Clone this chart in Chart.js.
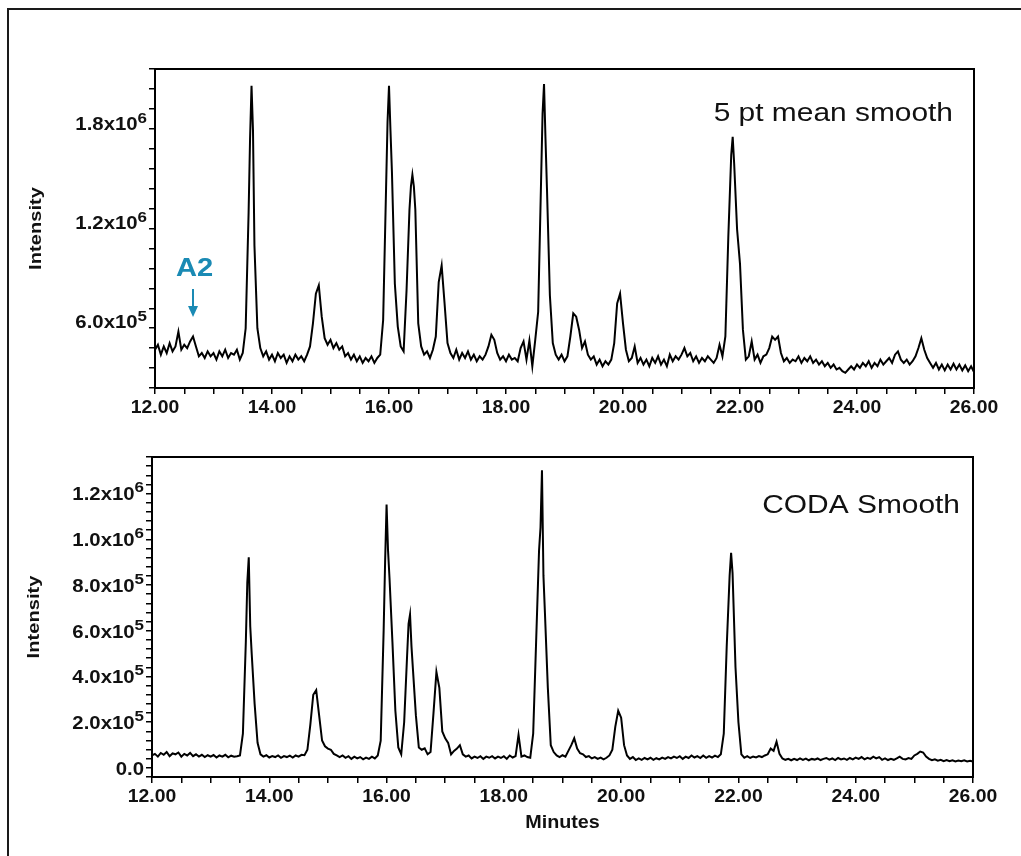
<!DOCTYPE html>
<html lang="en">
<head>
<meta charset="UTF-8">
<title>5 pt mean smooth vs CODA smooth</title>
<script src="https://cdn.jsdelivr.net/npm/chart.js"></script>
<style>
  body { margin: 0; background: #fff; }
  .page { position: relative; width: 1021px; height: 856px; overflow: hidden; }
  .frame { position: absolute; left: 7px; top: 8px; width: 1100px; height: 900px;
           border-left: 2px solid #1a1a1a; border-top: 2px solid #1a1a1a; }
  canvas { position: absolute; left: 0; }
  #topChart { top: 0; }
  #bottomChart { top: 430px; }
</style>
</head>
<body>
<div class="page">
  <div class="frame"></div>
  <canvas id="topChart" width="1021" height="430"></canvas>
  <canvas id="bottomChart" width="1021" height="426"></canvas>
</div>

<script>
// retention time (minutes), shared by both traces
const minutes = [
  12.00, 12.05, 12.10, 12.15, 12.20, 12.25, 12.30, 12.35, 12.40, 12.45,
  12.50, 12.55, 12.60, 12.65, 12.70, 12.75, 12.80, 12.85, 12.90, 12.95,
  13.00, 13.05, 13.10, 13.15, 13.20, 13.25, 13.30, 13.35, 13.40, 13.45,
  13.50, 13.55, 13.60, 13.625, 13.65, 13.675, 13.70, 13.75, 13.80, 13.85, 13.90, 13.95,
  14.00, 14.05, 14.10, 14.15, 14.20, 14.25, 14.30, 14.35, 14.40, 14.45,
  14.50, 14.55, 14.60, 14.65, 14.70, 14.75, 14.80, 14.85, 14.90, 14.95,
  15.00, 15.05, 15.10, 15.15, 15.20, 15.25, 15.30, 15.35, 15.40, 15.45,
  15.50, 15.55, 15.60, 15.65, 15.70, 15.75, 15.80, 15.85, 15.90, 15.95, 15.975,
  16.00, 16.025, 16.05, 16.10, 16.15, 16.20, 16.25, 16.30, 16.35, 16.375, 16.40, 16.425, 16.45,
  16.50, 16.55, 16.60, 16.65, 16.70, 16.75, 16.80, 16.85, 16.90, 16.95,
  17.00, 17.05, 17.10, 17.15, 17.20, 17.25, 17.30, 17.35, 17.40, 17.45,
  17.50, 17.55, 17.60, 17.65, 17.70, 17.75, 17.80, 17.85, 17.90, 17.95,
  18.00, 18.05, 18.10, 18.15, 18.20, 18.25, 18.30, 18.35, 18.40, 18.45,
  18.50, 18.55, 18.60, 18.625, 18.65, 18.675, 18.70, 18.75, 18.80, 18.85, 18.90, 18.95,
  19.00, 19.05, 19.10, 19.15, 19.20, 19.25, 19.30, 19.35, 19.40, 19.45,
  19.50, 19.55, 19.60, 19.65, 19.70, 19.75, 19.80, 19.85, 19.90, 19.95,
  20.00, 20.05, 20.10, 20.15, 20.20, 20.25, 20.30, 20.35, 20.40, 20.45,
  20.50, 20.55, 20.60, 20.65, 20.70, 20.75, 20.80, 20.85, 20.90, 20.95,
  21.00, 21.05, 21.10, 21.15, 21.20, 21.25, 21.30, 21.35, 21.40, 21.45,
  21.50, 21.55, 21.60, 21.65, 21.70, 21.75, 21.80, 21.85, 21.875, 21.90, 21.95,
  22.00, 22.05, 22.10, 22.15, 22.20, 22.25, 22.30, 22.35, 22.40, 22.45,
  22.50, 22.55, 22.60, 22.65, 22.70, 22.75, 22.80, 22.85, 22.90, 22.95,
  23.00, 23.05, 23.10, 23.15, 23.20, 23.25, 23.30, 23.35, 23.40, 23.45,
  23.50, 23.55, 23.60, 23.65, 23.70, 23.75, 23.80, 23.85, 23.90, 23.95,
  24.00, 24.05, 24.10, 24.15, 24.20, 24.25, 24.30, 24.35, 24.40, 24.45,
  24.50, 24.55, 24.60, 24.65, 24.70, 24.75, 24.80, 24.85, 24.90, 24.95,
  25.00, 25.05, 25.10, 25.15, 25.20, 25.25, 25.30, 25.35, 25.40, 25.45,
  25.50, 25.55, 25.60, 25.65, 25.70, 25.75, 25.80, 25.85, 25.90, 25.95, 26.00
];

// intensity in units of 1e5 counts
const meanSmooth = [
  4.2, 4.5, 3.9, 4.4, 4.0, 4.6, 4.1, 4.4, 5.3, 4.2,
  4.5, 4.3, 4.7, 5.0, 4.4, 3.8, 4.0, 3.7, 4.1, 3.8,
  4.0, 3.6, 4.1, 3.8, 4.2, 3.7, 4.0, 3.9, 4.2, 3.6,
  4.0, 5.5, 12.5, 17.0, 20.2, 17.5, 10.5, 5.5, 4.3, 3.8, 4.1, 3.6,
  3.9, 3.5, 4.0, 3.7, 3.9, 3.4, 3.8, 3.5, 3.9, 3.6,
  3.8, 3.5, 3.9, 4.4, 5.8, 7.6, 8.1, 6.2, 4.9, 4.5,
  4.8, 4.3, 4.6, 4.2, 4.4, 3.8, 4.0, 3.6, 3.9, 3.5,
  3.8, 3.4, 3.7, 3.5, 3.8, 3.4, 3.7, 3.9, 6.0, 14.0, 18.0,
  20.2, 17.5, 15.0, 8.2, 5.6, 4.4, 4.1, 7.8, 12.7, 14.1, 14.8, 14.1, 12.7,
  5.8, 4.4, 3.9, 4.1, 3.7, 4.2, 5.0, 8.3, 9.3, 7.0,
  4.6, 4.0, 3.7, 4.2, 3.6, 4.0, 3.7, 4.1, 3.6, 3.9,
  3.5, 3.8, 3.6, 3.9, 4.4, 5.1, 4.8, 4.0, 3.6, 3.8,
  3.5, 3.9, 3.6, 3.7, 3.5, 4.3, 4.7, 3.6, 4.75, 3.2,
  4.8, 6.5, 14.5, 18.5, 20.3, 17.0, 14.0, 7.5, 4.6, 3.9, 3.6, 3.9,
  3.5, 3.8, 5.0, 6.4, 6.2, 5.4, 4.3, 4.7, 3.9, 3.6,
  3.8, 3.3, 3.6, 3.2, 3.5, 3.3, 3.6, 4.6, 7.0, 7.6,
  5.8, 4.2, 3.5, 3.7, 4.4, 3.4, 3.7, 3.3, 3.6, 3.2,
  3.7, 3.4, 3.8, 3.3, 3.6, 3.2, 3.9, 3.5, 3.8, 3.6,
  3.9, 4.3, 3.8, 4.0, 3.5, 3.8, 3.4, 3.7, 3.5, 3.8,
  3.6, 3.4, 3.7, 4.5, 3.8, 5.0, 11.0, 16.0, 17.1, 15.5, 11.5,
  9.4, 5.4, 3.6, 3.8, 4.7, 3.6, 3.9, 3.4, 3.8, 3.9,
  4.3, 5.0, 4.8, 5.0, 4.0, 3.5, 3.7, 3.4, 3.6, 3.5,
  3.8, 3.4, 3.7, 3.5, 3.8, 3.4, 3.6, 3.3, 3.5, 3.2,
  3.4, 3.1, 3.3, 3.0, 3.1, 2.9, 2.8, 3.0, 3.2, 3.0,
  3.3, 3.1, 3.4, 3.2, 3.5, 3.1, 3.4, 3.2, 3.6, 3.3,
  3.5, 3.7, 3.4, 3.9, 4.1, 3.6, 3.4, 3.6, 3.3, 3.5,
  3.8, 4.3, 4.9, 4.2, 3.7, 3.4, 3.1, 3.4, 3.0, 3.3,
  2.95, 3.3, 3.0, 3.35, 3.0, 3.3, 2.95, 3.25, 2.9, 3.2, 2.85
];

const codaSmooth = [
  0.55, 0.62, 0.50, 0.66, 0.58, 0.70, 0.52, 0.64, 0.60, 0.68,
  0.50, 0.62, 0.55, 0.66, 0.52, 0.60, 0.50, 0.58, 0.48, 0.56,
  0.50, 0.57, 0.46, 0.55, 0.50, 0.58, 0.47, 0.54, 0.50, 0.52,
  0.55, 1.5, 5.5, 8.1, 9.2, 6.2, 5.0, 2.8, 1.1, 0.60, 0.50, 0.56,
  0.46, 0.52, 0.48, 0.55, 0.45, 0.52, 0.48, 0.54, 0.46, 0.55,
  0.50, 0.58, 0.56, 0.8, 1.9, 3.2, 3.4, 2.3, 1.2, 0.95,
  0.85, 0.80, 0.62, 0.55, 0.48, 0.55, 0.45, 0.52, 0.40, 0.50,
  0.42, 0.48, 0.38, 0.46, 0.40, 0.50, 0.42, 0.55, 1.2, 6.0, 9.0,
  11.5, 9.5, 8.3, 5.5, 2.5, 0.9, 0.6, 2.0, 4.9, 6.3, 6.7, 5.3, 4.3,
  2.3, 0.9, 0.8, 0.86, 0.6, 0.7, 2.4, 4.2, 3.5, 1.6,
  1.3, 1.1, 0.6, 0.75, 0.85, 1.0, 0.6, 0.5, 0.55, 0.42,
  0.50, 0.44, 0.52, 0.40, 0.50, 0.45, 0.52, 0.42, 0.50, 0.44,
  0.52, 0.40, 0.55, 0.46, 0.52, 1.45, 0.50, 0.55, 0.48, 0.45,
  1.5, 5.5, 9.5, 10.5, 13.0, 8.4, 6.8, 3.5, 1.0, 0.7, 0.55, 0.48,
  0.56, 0.50, 0.75, 1.0, 1.3, 0.85, 0.65, 0.60, 0.48, 0.52,
  0.42, 0.48, 0.40, 0.46, 0.38, 0.45, 0.55, 0.8, 1.8, 2.5,
  2.2, 1.0, 0.55, 0.40, 0.48, 0.35, 0.42, 0.36, 0.44, 0.38,
  0.45, 0.36, 0.43, 0.38, 0.46, 0.40, 0.48, 0.42, 0.50, 0.44,
  0.52, 0.40, 0.50, 0.44, 0.55, 0.46, 0.52, 0.44, 0.55, 0.45,
  0.52, 0.46, 0.54, 0.48, 0.60, 1.5, 5.3, 8.4, 9.4, 8.5, 4.4,
  2.0, 0.6, 0.45, 0.52, 0.44, 0.50, 0.46, 0.52, 0.48, 0.55,
  0.60, 0.85, 0.75, 1.15, 0.62, 0.42, 0.36, 0.40, 0.34, 0.40,
  0.35, 0.42, 0.36, 0.41, 0.34, 0.40, 0.37, 0.42, 0.35, 0.40,
  0.44, 0.37, 0.42, 0.35, 0.44, 0.38, 0.42, 0.36, 0.44, 0.38,
  0.46, 0.40, 0.48, 0.38, 0.45, 0.40, 0.50, 0.42, 0.48, 0.36,
  0.42, 0.35, 0.40, 0.36, 0.42, 0.50, 0.40, 0.38, 0.44, 0.40,
  0.55, 0.62, 0.72, 0.68, 0.50, 0.40, 0.34, 0.38, 0.32, 0.36,
  0.30, 0.35, 0.30, 0.34, 0.29, 0.33, 0.30, 0.34, 0.29, 0.32, 0.28
];

// axis labels
const xTickValues = [12, 14, 16, 18, 20, 22, 24, 26];
const xTickText = ['12.00', '14.00', '16.00', '18.00', '20.00', '22.00', '24.00', '26.00'];
const topYTickValues = [6e5, 1.2e6, 1.8e6];
const topYTickText = [['6.0x10', '5'], ['1.2x10', '6'], ['1.8x10', '6']];
const bottomYTickValues = [0, 2e5, 4e5, 6e5, 8e5, 1e6, 1.2e6];
const bottomYTickText = [['0.0', ''], ['2.0x10', '5'], ['4.0x10', '5'], ['6.0x10', '5'],
                         ['8.0x10', '5'], ['1.0x10', '6'], ['1.2x10', '6']];

const FONT = '"Liberation Sans", Arial, sans-serif';
const INK = '#111';
const A2_BLUE = '#1a8ab4';

// text drawn with a slight horizontal stretch like the original export
function stretchedText(ctx, str, x, y, font, align, sx, color) {
  ctx.save();
  ctx.translate(x, y);
  ctx.scale(sx, 1);
  ctx.font = font;
  ctx.fillStyle = color || INK;
  ctx.textAlign = align;
  ctx.textBaseline = 'alphabetic';
  ctx.fillText(str, 0, 0);
  ctx.restore();
}

function powerLabel(ctx, base, exp, xRight, yBase, raise) {
  ctx.save();
  ctx.translate(xRight, yBase);
  ctx.scale(1.13, 1);
  ctx.fillStyle = INK;
  ctx.textAlign = 'right';
  ctx.textBaseline = 'alphabetic';
  let off = 0;
  if (exp) {
    ctx.font = 'bold 15px ' + FONT;
    ctx.fillText(exp, 0, -raise);
    off = ctx.measureText(exp).width;
  }
  ctx.font = 'bold 18px ' + FONT;
  ctx.fillText(base, -off, 0);
  ctx.restore();
}

const decorations = {
  id: 'decorations',
  afterDraw(chart, args, o) {
    const ctx = chart.ctx;
    const a = chart.chartArea;
    const xs = chart.scales.x, ys = chart.scales.y;

    ctx.save();
    ctx.strokeStyle = '#000';
    ctx.lineWidth = 2;
    ctx.strokeRect(a.left, a.top, a.right - a.left, a.bottom - a.top);
    ctx.restore();

    xTickValues.forEach((v, i) => {
      stretchedText(ctx, xTickText[i], xs.getPixelForValue(v), a.bottom + 25,
                    'bold 19px ' + FONT, 'center', 1.02);
    });
    o.yValues.forEach((v, i) => {
      const y = ys.getPixelForValue(v);
      powerLabel(ctx, o.yText[i][0], o.yText[i][1], a.left - 8, y + o.baseShift, o.raise);
    });

    // rotated axis title
    ctx.save();
    ctx.translate(o.intensityX, (a.top + a.bottom) / 2);
    ctx.rotate(-Math.PI / 2);
    ctx.scale(1.22, 1);
    ctx.font = 'bold 16.5px ' + FONT;
    ctx.fillStyle = INK;
    ctx.textAlign = 'center';
    ctx.fillText('Intensity', 0, 0);
    ctx.restore();

    stretchedText(ctx, o.title, a.right - o.titleInset, a.top + o.titleDrop,
                  '26px ' + FONT, 'right', 1.15);

    if (o.minutes) {
      stretchedText(ctx, 'Minutes', xs.getPixelForValue(19.0), a.bottom + 51,
                    'bold 19px ' + FONT, 'center', 1.04);
    }

    if (o.marker) {
      const m = o.marker;
      const x = xs.getPixelForValue(m.at);
      stretchedText(ctx, m.text, x + 1.5, ys.getPixelForValue(m.textAt),
                    'bold 26px ' + FONT, 'center', 1.12, A2_BLUE);
      const y0 = ys.getPixelForValue(m.from);
      const y1 = ys.getPixelForValue(m.to);
      ctx.save();
      ctx.strokeStyle = A2_BLUE;
      ctx.fillStyle = A2_BLUE;
      ctx.lineWidth = 2;
      ctx.beginPath();
      ctx.moveTo(x, y0);
      ctx.lineTo(x, y1 - 9);
      ctx.stroke();
      ctx.beginPath();
      ctx.moveTo(x - 5, y1 - 11);
      ctx.lineTo(x + 5, y1 - 11);
      ctx.lineTo(x, y1);
      ctx.closePath();
      ctx.fill();
      ctx.restore();
    }
  }
};

function axisStyle() {
  return {
    grid: { drawOnChartArea: false, drawTicks: true, tickLength: 6, color: '#000', lineWidth: 1.5 },
    border: { display: true, color: '#000', width: 2 }
  };
}

function makeChart(id, values, view) {
  const canvas = document.getElementById(id);
  const W = canvas.width, H = canvas.height;
  const points = minutes.map((t, i) => ({ x: t, y: values[i] * 1e5 }));
  return new Chart(canvas, {
    type: 'line',
    data: {
      datasets: [{
        data: points,
        borderColor: '#000',
        borderWidth: 2,
        pointRadius: 0,
        tension: 0,
        fill: false
      }]
    },
    options: {
      responsive: false,
      animation: false,
      devicePixelRatio: 1,
      events: [],
      layout: { padding: { left: 0, top: view.area.top, right: W - view.area.right, bottom: 0 } },
      plugins: {
        legend: { display: false },
        tooltip: { enabled: false },
        decorations: view.deco
      },
      scales: {
        x: Object.assign(axisStyle(), {
          type: 'linear', min: 12, max: 26,
          ticks: { stepSize: 0.5, display: false, autoSkip: false },
          afterFit(s) { s.height = H - view.area.bottom; }
        }),
        y: Object.assign(axisStyle(), {
          type: 'linear', min: view.yMin, max: view.yMax,
          ticks: { stepSize: view.yStep, display: false, includeBounds: false },
          afterFit(s) { s.width = view.area.left; }
        })
      }
    },
    plugins: [decorations]
  });
}

makeChart('topChart', meanSmooth, {
  area: { left: 155, top: 69, right: 974, bottom: 388 },
  yMin: 1.88e5, yMax: 2.121e6, yStep: 1.2e5,
  deco: {
    yValues: topYTickValues, yText: topYTickText, baseShift: 8, raise: 7,
    intensityX: 41, title: '5 pt mean smooth', titleInset: 21, titleDrop: 52,
    minutes: false,
    marker: { text: 'A2', at: 12.65, textAt: 8.67e5, from: 7.88e5, to: 6.18e5 }
  }
});

makeChart('bottomChart', codaSmooth, {
  area: { left: 152, top: 27, right: 973, bottom: 347 },
  yMin: -3.9e4, yMax: 1.358e6, yStep: 4e4,
  deco: {
    yValues: bottomYTickValues, yText: bottomYTickText, baseShift: 7, raise: 8,
    intensityX: 39, title: 'CODA Smooth', titleInset: 13, titleDrop: 56,
    minutes: true, marker: null
  }
});
</script>
</body>
</html>
